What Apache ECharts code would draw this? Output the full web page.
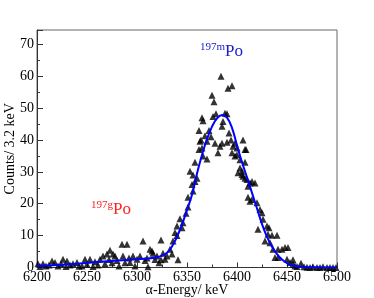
<!DOCTYPE html>
<html><head><meta charset="utf-8">
<script src="https://cdn.jsdelivr.net/npm/echarts@6/dist/echarts.min.js"></script>
<style>html,body{margin:0;padding:0;background:#fff}#c{width:374px;height:298px}</style>
</head><body><div id="c"></div>
<script>
// measured counts (energy keV, counts)
const pointEnergy = [6201,6203,6206,6209,6212,6215,6218,6221,6224,6226,6229,6230,6233,6236,6240,6242,6245,6248,6250,6253,6256,6258,6261,6263,6266,6268,6270,6272,6273,6275,6276,6278,6280,6282,6285,6286,6288,6290,6292,6293,6296,6298,6300,6303,6306,6308,6310,6311,6313,6315,6316,6318,6320,6322,6324,6324,6326,6328,6330,6333,6335,6336,6338,6340,6340,6341,6343,6345,6346,6349,6351,6351,6353,6355,6356,6356,6358,6358,6360,6362,6362,6363,6364,6365,6365,6366,6366,6368,6370,6370,6372,6374,6375,6376,6377,6378,6379,6381,6383,6384,6385,6385,6386,6388,6390,6390,6391,6392,6394,6395,6395,6396,6398,6398,6400,6400,6401,6403,6403,6405,6405,6406,6406,6408,6408,6408,6409,6410,6411,6411,6413,6413,6415,6415,6418,6420,6421,6423,6425,6426,6428,6430,6431,6432,6433,6435,6436,6438,6440,6441,6441,6445,6448,6450,6451,6453,6456,6456,6458,6460,6464,6467,6470,6473,6476,6480,6483,6486,6490,6493,6496,6499];
const pointCounts = [1.2,0.3,1.2,0.5,0.8,2,1.6,0.5,1.2,2.6,0.3,2,0.8,1.2,1.6,0.4,0.5,2.6,1,2.6,0.3,1.8,0.8,2.6,3.6,1.2,4.2,2.5,5.4,1.5,4.2,3.6,2.2,0.5,7.3,3.6,1.5,7.3,3,1.6,3.6,0.5,2.6,3.6,8.3,2.2,3,0.2,5.7,5.2,4.5,2.5,3.6,1.5,8.6,2.4,4.5,2.6,3.6,5.7,4.2,8.3,11,10,13,2.4,15.3,12.5,14,17,19,22,30.2,26,24,29,27,33,28,37,43,39.6,40,47,37.5,46,35,41.3,39.6,34,43,41,54,47.4,52,39,48.2,36,38,60,44.3,39,45.8,48.4,48.2,39.3,56.2,42.2,40,57,36,38,39,35,37.5,35.4,29.7,33.8,31.2,30.2,29.2,40,28.6,33,37,28,37,27.6,22,25.5,26.5,20.8,27,21.3,26.5,20.3,12,18.2,17.2,15.1,8.3,13,10.4,12.5,7.8,10.1,5.7,3.1,10.1,5.7,3.1,5.7,6.3,2.6,6.3,1.6,1,2.4,0.5,0.3,1.3,0.2,0.1,0,0.2,0,0,0.2,0,0,0,0];
// fit curve
const fitEnergy = [6200,6220,6240,6260,6280,6300,6310,6320,6325,6330,6335,6340,6345,6350,6355,6360,6365,6370,6375,6380,6385,6390,6395,6400,6405,6410,6415,6420,6425,6430,6435,6440,6445,6450,6455,6460,6470,6480,6500];
const fitCounts = [0.5,0.8,1.2,1.7,2.2,2.6,2.8,3.2,3.7,4.6,6.6,9.6,13.5,18,22.8,29.5,35.3,40.3,44.2,46.8,47.8,47.0,43.8,38.3,33.0,28.3,23.4,18.5,13.6,9.6,6.5,4.2,2.5,1.4,0.7,0.3,0.1,0.05,0];
const xTicks = {min: 6200, max: 6500, step: 50};
const yTicks = {min: 0, max: 74.5, step: 10};

const scatterData = pointEnergy.map((e, i) => [e, pointCounts[i]]);
const fitData = fitEnergy.map((e, i) => [e, fitCounts[i]]);
const font = 'Liberation Serif';
const chart = echarts.init(document.getElementById('c'));
chart.setOption({
  animation: false,
  backgroundColor: '#fff',
  grid: {left: 37, right: 37, top: 30, bottom: 30.5, containLabel: false, outerBoundsMode: 'none',
    show: true, borderColor: '#666', borderWidth: 1, backgroundColor: 'transparent'},
  xAxis: {
    type: 'value', min: xTicks.min, max: xTicks.max, interval: xTicks.step,
    name: 'α-Energy/ keV', nameLocation: 'middle', nameGap: 16, nameMoveOverlap: false,
    nameTextStyle: {fontFamily: font, fontSize: 14, color: '#000'},
    axisLine: {show: true, lineStyle: {color: '#333'}},
    axisTick: {show: true, inside: true, length: 5, lineStyle: {color: '#333'}},
    minorTick: {show: true, splitNumber: 2, length: 3, lineStyle: {color: '#333'}},
    splitLine: {show: false},
    axisLabel: {fontFamily: font, fontSize: 14, color: '#000', margin: 3, formatter: v => String(v)}
  },
  yAxis: {
    type: 'value', min: yTicks.min, max: yTicks.max, interval: yTicks.step,
    name: 'Counts/ 3.2 keV', nameLocation: 'middle', nameGap: 20, nameMoveOverlap: false,
    nameTextStyle: {fontFamily: font, fontSize: 14, color: '#000'},
    axisLine: {show: true, lineStyle: {color: '#333'}},
    axisTick: {show: true, inside: true, length: 6, lineStyle: {color: '#333'}},
    minorTick: {show: true, splitNumber: 2, length: 3, lineStyle: {color: '#333'}},
    splitLine: {show: false},
    axisLabel: {fontFamily: font, fontSize: 14, color: '#000', margin: 3, showMaxLabel: false,
      formatter: v => (v % 10 === 0 ? String(v) : '')}
  },
  series: [
    {type: 'scatter', data: scatterData, symbol: 'triangle', symbolSize: 7,
     itemStyle: {color: '#000'}, z: 2},
    {type: 'line', data: fitData, smooth: 0.4, showSymbol: false,
     lineStyle: {color: '#0000ff', width: 2}, z: 3}
  ],
  graphic: [
    {type: 'text', left: 200, top: 42, style: {
      text: '{s|197m}{b|Po}', rich: {
        s: {fontFamily: font, fontSize: 11, fill: '#1a1acc', padding: [0,0,8,0]},
        b: {fontFamily: font, fontSize: 17, fill: '#1a1acc'}}}},
    {type: 'text', left: 91, top: 200, style: {
      text: '{s|197g}{b|Po}', rich: {
        s: {fontFamily: font, fontSize: 11, fill: '#ff2020', padding: [0,0,8,0]},
        b: {fontFamily: font, fontSize: 17, fill: '#ff2020'}}}}
  ]
});
</script></body></html>
